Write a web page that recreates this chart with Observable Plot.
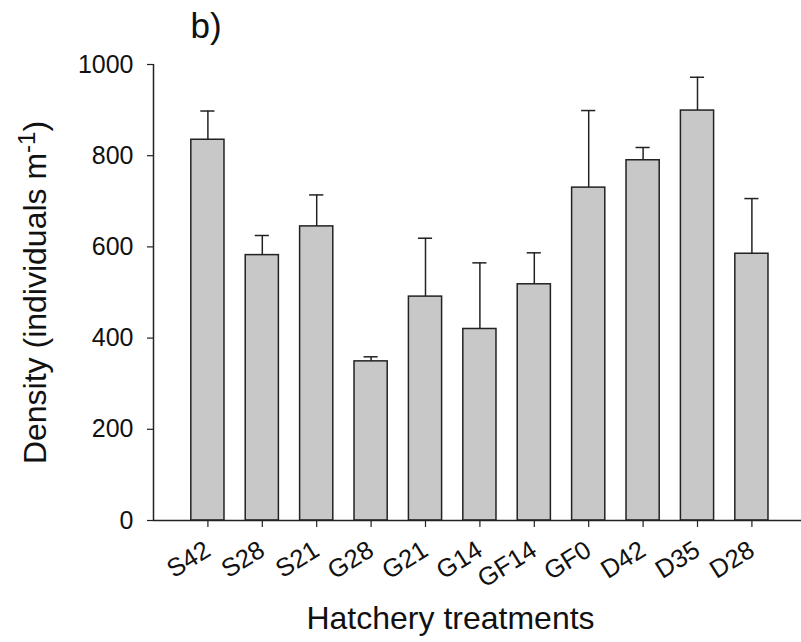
<!DOCTYPE html>
<html>
<head>
<meta charset="utf-8">
<script src="https://cdn.jsdelivr.net/npm/d3@7"></script>
<script src="https://cdn.jsdelivr.net/npm/@observablehq/plot@0.6"></script>
<style>
  html, body { margin: 0; padding: 0; background: white; }
  #chart { width: 801px; height: 642px; overflow: hidden; }
</style>
</head>
<body>
<div id="chart"></div>
<script>
const categories = ["S42", "S28", "S21", "G28", "G21", "G14", "GF14", "GF0", "D42", "D35", "D28"];
const density = [835, 582, 645, 349, 491, 420, 518, 730, 790, 899, 585];
const errors = [63, 43, 69, 10, 128, 145, 69, 169, 28, 73, 121];
const yTicks = [0, 200, 400, 600, 800, 1000];
const panelLabel = "b)";
const xLabel = "Hatchery treatments";
const yLabelMain = "Density (individuals m";
const yLabelSup = "-1";
const yLabelEnd = ")";

const data = categories.map((c, i) => ({
  cat: c, pos: i + 1, value: density[i], upper: density[i] + errors[i]
}));

const font = "Liberation Sans, Arial, Helvetica, sans-serif";
const ink = "#222";
const halfBar = 0.305;
const halfCap = 0.13;

const chart = Plot.plot({
  width: 801,
  height: 642,
  marginLeft: 153,
  marginRight: 0,
  marginTop: 64,
  marginBottom: 122,
  style: { fontFamily: font, color: "#111", background: "white" },
  x: { type: "linear", domain: [0, categories.length + 1], range: [153, 805.8] },
  y: { domain: [0, 1000] },
  marks: [
    Plot.rect(data, {
      x1: d => d.pos - halfBar, x2: d => d.pos + halfBar,
      y1: 0, y2: "value",
      fill: "#c8c8c8", stroke: ink, strokeWidth: 1.5
    }),
    Plot.ruleX(data, { x: "pos", y1: "value", y2: "upper", stroke: ink, strokeWidth: 1.5 }),
    Plot.ruleY(data, { y: "upper", x1: d => d.pos - halfCap, x2: d => d.pos + halfCap, stroke: ink, strokeWidth: 1.5 }),
    Plot.ruleX([0], { y1: 0, y2: 1000, stroke: ink, strokeWidth: 1.5 }),
    Plot.ruleY([0], { stroke: ink, strokeWidth: 1.5 }),
    Plot.axisY({
      ticks: yTicks, tickFormat: d => String(d), tickSize: 6, tickPadding: 14, fontSize: 25,
      label: null, stroke: ink, strokeWidth: 1.2, color: "#111"
    }),
    Plot.axisX({
      ticks: data.map(d => d.pos), tickFormat: p => categories[p - 1],
      tickSize: 7, tickPadding: 20, tickRotate: -32, fontSize: 25.5,
      label: null, stroke: ink, strokeWidth: 1.2
    }),
    Plot.text([panelLabel], {
      frameAnchor: "top-left", dx: 37, dy: -27,
      textAnchor: "start", lineAnchor: "bottom", fontSize: 35, fill: "#111"
    }),
    Plot.text([xLabel], {
      frameAnchor: "bottom", dx: -27, dy: 108,
      textAnchor: "middle", lineAnchor: "bottom", fontSize: 32, fill: "#111"
    }),
    Plot.text([yLabelMain + yLabelSup + yLabelEnd], {
      frameAnchor: "left", dx: -118, rotate: -90,
      textAnchor: "middle", lineAnchor: "middle", fontSize: 32, fill: "#111"
    })
  ]
});

// superscript in y label
for (const t of chart.querySelectorAll("text")) {
  if (t.textContent === yLabelMain + yLabelSup + yLabelEnd) {
    const sel = d3.select(t);
    sel.text(null);
    sel.append("tspan").text(yLabelMain);
    sel.append("tspan").attr("dy", "-0.45em").attr("font-size", "0.75em").text(yLabelSup);
    sel.append("tspan").attr("dy", "0.3375em").text(yLabelEnd);
  }
}

document.getElementById("chart").appendChild(chart);
</script>
</body>
</html>
